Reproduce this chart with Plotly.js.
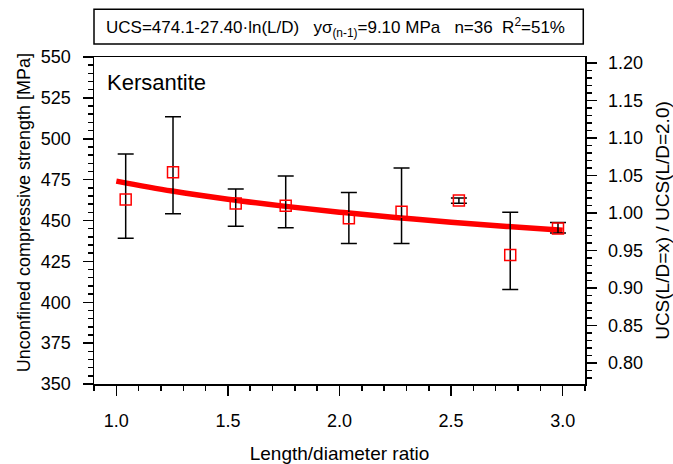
<!DOCTYPE html>
<html>
<head>
<meta charset="utf-8">
<script src="https://cdn.plot.ly/plotly-3.0.1.min.js"></script>
<style>html,body{margin:0;padding:0;background:#fff;}#chart{width:673px;height:464px;}</style>
</head>
<body>
<div id="chart"></div>
<script>
// Measured data (L/D ratio, mean UCS, error bar extents)
var ldRatio   = [1.042, 1.254, 1.535, 1.759, 2.042, 2.278, 2.535, 2.765, 2.979];
var ucsMean   = [462.9, 479.5, 460.4, 459.0, 451.4, 455.3, 462.3, 428.9, 445.1];
var errPlus   = [27.8, 34.0, 8.8, 18.2, 15.8, 26.8, 1.4, 26.2, 3.7];
var errMinus  = [23.8, 25.4, 13.9, 13.5, 15.4, 19.3, 1.7, 21.1, 2.7];
// Fitted curve
var fitX      = [1.0, 1.25, 1.5, 1.75, 2.0, 2.25, 2.5, 2.75, 3.0];
var fitY      = [474.1, 468.0, 463.0, 458.8, 455.1, 451.9, 449.0, 446.4, 444.0];
var xTicks    = [1.0, 1.5, 2.0, 2.5, 3.0];
var titleText = 'UCS=474.1-27.40·ln(L/D)   yσ<sub>(n-1)</sub>=9.10 MPa   n=36  R<sup>2</sup>=51%';
var rockName  = 'Kersantite';
var yTitleLeft = 'Unconfined compressive strength [MPa]';

var FONT = 'Arial, "Liberation Sans", sans-serif';

var traces = [
  {x: fitX, y: fitY, mode: 'lines', line: {color: '#ff0000', width: 5.5, shape: 'spline'},
   hoverinfo: 'skip', showlegend: false},
  {x: ldRatio, y: ucsMean, mode: 'markers',
   marker: {symbol: 'square-open', size: 11, color: '#ff0000', line: {width: 1.5, color: '#ff0000'}},
   error_y: {type: 'data', symmetric: false, array: errPlus, arrayminus: errMinus,
             color: '#000', thickness: 1.5, width: 8},
   showlegend: false},
  {x: [], y: [], yaxis: 'y2', mode: 'markers', showlegend: false, hoverinfo: 'skip'}
];

var layout = {
  width: 673, height: 464,
  margin: {l: 94, r: 88, t: 57, b: 80, pad: 0},
  paper_bgcolor: '#fff', plot_bgcolor: '#fff',
  font: {family: FONT, size: 18, color: '#000'},
  showlegend: false,
  xaxis: {
    range: [0.9, 3.1], tickvals: xTicks, tickformat: '.1f',
    ticks: 'outside', ticklen: 10, tickwidth: 1.5, tickcolor: '#000',
    minor: {dtick: 0.1, tick0: 0.9, ticks: 'outside', ticklen: 5, tickwidth: 1.5, tickcolor: '#000', showgrid: false},
    showline: true, linecolor: '#000', linewidth: 1.5, mirror: true,
    showgrid: false, zeroline: false, ticklabelstandoff: 10,
    tickfont: {size: 18},
    title: {text: 'Length/diameter ratio', font: {size: 19}, standoff: 19}
  },
  yaxis: {
    range: [350, 550], dtick: 25, tick0: 350,
    ticks: 'outside', ticklen: 10, tickwidth: 1.5, tickcolor: '#000',
    minor: {dtick: 5, tick0: 350, ticks: 'outside', ticklen: 5, tickwidth: 1.5, tickcolor: '#000', showgrid: false},
    showline: true, linecolor: '#000', linewidth: 1.5,
    showgrid: false, zeroline: false, ticklabelstandoff: 8,
    tickfont: {size: 18}
  },
  yaxis2: {
    overlaying: 'y', side: 'right', anchor: 'x',
    range: [0.772, 1.208], dtick: 0.05, tick0: 0.8, tickformat: '.2f',
    ticks: 'outside', ticklen: 10, tickwidth: 1.5, tickcolor: '#000',
    minor: {dtick: 0.01, tick0: 0.8, ticks: 'outside', ticklen: 5, tickwidth: 1.5, tickcolor: '#000', showgrid: false},
    showline: true, linecolor: '#000', linewidth: 1.5,
    showgrid: false, zeroline: false, ticklabelstandoff: 8,
    tickfont: {size: 18},
    title: {text: 'UCS(L/D=x) / UCS(L/D=2.0)', font: {size: 19}, standoff: 13}
  },
  shapes: [
    {type: 'rect', xref: 'paper', yref: 'paper', x0: 0, x1: 0.9965, y0: 1.0398, y1: 1.1459,
     line: {color: '#000', width: 1.5}, fillcolor: 'rgba(0,0,0,0)'}
  ],
  annotations: [
    {text: titleText, xref: 'paper', yref: 'paper', x: 0.492, y: 1.0917,
     xanchor: 'center', yanchor: 'middle', showarrow: false, font: {size: 17}},
    {text: rockName, xref: 'paper', yref: 'paper', x: 0.0224, y: 0.9205,
     xanchor: 'left', yanchor: 'middle', showarrow: false, font: {size: 22}},
    {text: yTitleLeft, xref: 'paper', yref: 'paper', x: -0.1436, y: 0.524, textangle: -90,
     xanchor: 'center', yanchor: 'middle', showarrow: false, font: {size: 18}}
  ]
};

Plotly.newPlot('chart', traces, layout, {staticPlot: true, displayModeBar: false});
</script>
</body>
</html>
